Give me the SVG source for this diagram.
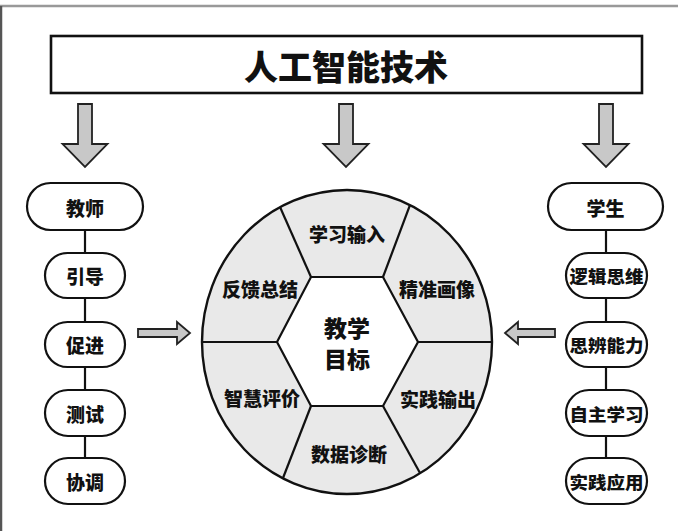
<svg xmlns="http://www.w3.org/2000/svg" width="678" height="531" viewBox="0 0 678 531">
<defs>
<style>
.t{font-family:"Noto Sans CJK SC","Noto Sans",sans-serif;font-weight:900;fill:#111;text-anchor:middle;dominant-baseline:central}
.pill{fill:#fff;stroke:#111;stroke-width:2.2}
.arr{fill:#c8c8c8;stroke:#222;stroke-width:1.8;stroke-linejoin:miter}
.ln{stroke:#111;stroke-width:2.2;fill:none}
</style>
</defs>
<rect width="678" height="531" fill="#fff"/>
<line x1="0" y1="6" x2="678" y2="6" stroke="#999" stroke-width="2.5"/>
<line x1="1" y1="6" x2="1" y2="531" stroke="#555" stroke-width="2.5"/>

<g id="title">
<rect x="51" y="36" width="591" height="57" fill="#fff" stroke="#111" stroke-width="2.6"/>
<text class="t" x="346" y="65" font-size="34">人工智能技术</text>
</g>

<g id="connectors">
<path class="arr" d="M78,104 h14 v40 h15.5 L85,167 L62.5,144 h15.5 z"/>
<path class="arr" d="M339,104 h14 v40 h15.5 L346,167 L323.5,144 h15.5 z"/>
<path class="arr" d="M599,104 h14 v40 h15.5 L606,167 L583.5,144 h15.5 z"/>
<path class="arr" d="M138,329 H177 V322 L190,333 L177,344 V337 H138 Z"/>
<path class="arr" d="M555,329 H518 V322 L505,333 L518,344 V337 H555 Z"/>
<line class="ln" x1="85" y1="230" x2="85" y2="458"/>
<line class="ln" x1="606" y1="230" x2="606" y2="458"/>
</g>

<g id="teacher">
<rect class="pill" x="27" y="183" width="116" height="47" rx="23.5"/>
<text class="t" x="85" y="207" font-size="19">教师</text>
</g>
<g id="t1"><rect class="pill" x="45" y="253" width="80" height="45" rx="22.5"/><text class="t" x="85" y="275.5" font-size="19">引导</text></g>
<g id="t2"><rect class="pill" x="45" y="322" width="80" height="45" rx="22.5"/><text class="t" x="85" y="344.5" font-size="19">促进</text></g>
<g id="t3"><rect class="pill" x="45" y="390" width="80" height="46" rx="23"/><text class="t" x="85" y="413" font-size="19">测试</text></g>
<g id="t4"><rect class="pill" x="45" y="458" width="80" height="46" rx="23"/><text class="t" x="85" y="481" font-size="19">协调</text></g>

<g id="student">
<rect class="pill" x="548" y="183" width="115" height="47" rx="23.5"/>
<text class="t" x="605.5" y="207" font-size="19">学生</text>
</g>
<g id="s1"><rect class="pill" x="566" y="253" width="81" height="45" rx="22.5"/><text class="t" x="606.5" y="275.5" font-size="17" textLength="74" lengthAdjust="spacingAndGlyphs">逻辑思维</text></g>
<g id="s2"><rect class="pill" x="566" y="322" width="81" height="45" rx="22.5"/><text class="t" x="606.5" y="344.5" font-size="17" textLength="74" lengthAdjust="spacingAndGlyphs">思辨能力</text></g>
<g id="s3"><rect class="pill" x="566" y="390" width="81" height="46" rx="23"/><text class="t" x="606.5" y="413" font-size="17" textLength="74" lengthAdjust="spacingAndGlyphs">自主学习</text></g>
<g id="s4"><rect class="pill" x="566" y="458" width="81" height="46" rx="23"/><text class="t" x="606.5" y="481" font-size="17" textLength="74" lengthAdjust="spacingAndGlyphs">实践应用</text></g>

<g id="wheel">
<ellipse cx="347" cy="342" rx="145" ry="152" fill="#e9e9e9" stroke="#111" stroke-width="2.4"/>
<polygon points="311,277 383,277 418,342 383,406 311,406 277,342" fill="#fff" stroke="#111" stroke-width="2.2"/>
<g class="ln">
<line x1="311" y1="277" x2="280" y2="207"/>
<line x1="383" y1="277" x2="410" y2="205"/>
<line x1="418" y1="342" x2="492" y2="342"/>
<line x1="383" y1="406" x2="420" y2="473"/>
<line x1="311" y1="406" x2="283" y2="478"/>
<line x1="277" y1="342" x2="202" y2="342"/>
</g>
</g>
<g id="seg1"><text class="t" x="347" y="233" font-size="19">学习输入</text></g>
<g id="seg2"><text class="t" x="437" y="288" font-size="19">精准画像</text></g>
<g id="seg3"><text class="t" x="438" y="398" font-size="19">实践输出</text></g>
<g id="seg4"><text class="t" x="349" y="453" font-size="19">数据诊断</text></g>
<g id="seg5"><text class="t" x="262" y="397" font-size="19">智慧评价</text></g>
<g id="seg6"><text class="t" x="260" y="288" font-size="19">反馈总结</text></g>
<g id="center"><text class="t" x="347" y="327" font-size="23">教学</text><text class="t" x="347" y="358" font-size="23">目标</text></g>
</svg>
